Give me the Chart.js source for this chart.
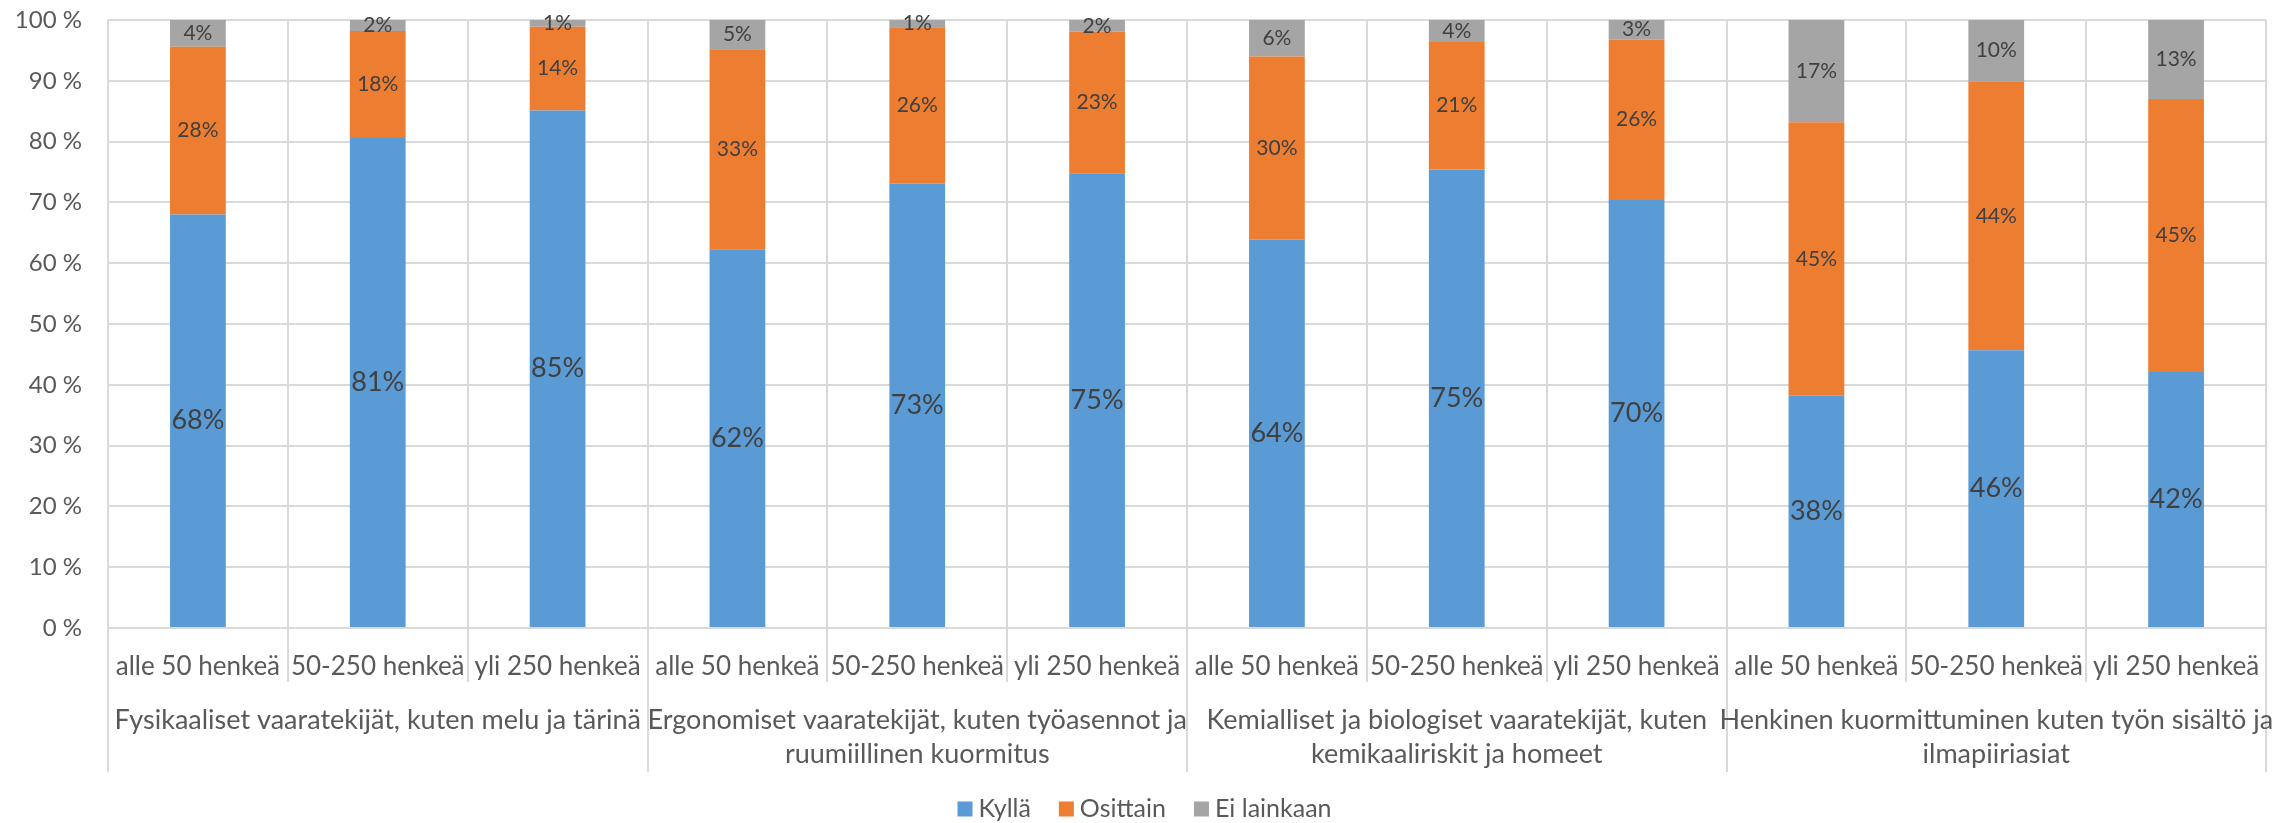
<!DOCTYPE html>
<html>
<head>
<meta charset="utf-8">
<script src="https://cdn.jsdelivr.net/npm/chart.js@4"></script>
<style>
  html, body { margin: 0; padding: 0; background: #ffffff; }
  #wrap { width: 2289px; height: 823px; }
</style>
</head>
<body>
<div id="wrap"><canvas id="c" width="2289" height="823"></canvas></div>
<script>
const categories = [
  'alle 50 henkeä', '50-250 henkeä', 'yli 250 henkeä',
  'alle 50 henkeä', '50-250 henkeä', 'yli 250 henkeä',
  'alle 50 henkeä', '50-250 henkeä', 'yli 250 henkeä',
  'alle 50 henkeä', '50-250 henkeä', 'yli 250 henkeä'
];
const groupLabels = [
  ['Fysikaaliset vaaratekijät, kuten melu ja tärinä'],
  ['Ergonomiset vaaratekijät, kuten työasennot ja', 'ruumiillinen kuormitus'],
  ['Kemialliset ja biologiset vaaratekijät, kuten', 'kemikaaliriskit ja homeet'],
  ['Henkinen kuormittuminen kuten työn sisältö ja', 'ilmapiiriasiat']
];
const groupSize = 3;
const seriesNames = ['Kyllä', 'Osittain', 'Ei lainkaan'];
const kylla      = [68.0, 80.6, 85.1, 62.3, 73.1, 74.8, 63.9, 75.4, 70.4, 38.2, 45.7, 42.1];
const osittain   = [27.6, 17.6, 13.8, 32.9, 25.7, 23.3, 30.1, 21.0, 26.4, 45.0, 44.2, 44.9];
const eiLainkaan = [ 4.4,  1.8,  1.1,  4.8,  1.2,  1.9,  6.0,  3.6,  3.2, 16.8, 10.1, 13.0];
const yTicks = [0, 10, 20, 30, 40, 50, 60, 70, 80, 90, 100];

const FONT = 'Lato';
const GRID = '#D9D9D9';
const TXT = '#595959';
const LBL = '#404040';

const belowAxisPlugin = {
  id: 'belowAxis',
  afterDraw(chart) {
    const ctx = chart.ctx;
    const xs = chart.scales.x;
    const n = categories.length;
    const w = xs.width / n;
    const top = chart.chartArea.bottom;
    ctx.save();
    ctx.strokeStyle = GRID;
    ctx.lineWidth = 2;
    for (let i = 0; i <= n; i++) {
      const x = Math.round(xs.left + i * w);
      const isGroup = i % groupSize === 0;
      ctx.beginPath();
      ctx.moveTo(x, top);
      ctx.lineTo(x, isGroup ? 772 : 682);
      ctx.stroke();
    }
    // group labels
    ctx.fillStyle = TXT;
    ctx.font = '27px ' + FONT;
    ctx.textAlign = 'center';
    ctx.textBaseline = 'middle';
    groupLabels.forEach((lines, g) => {
      const cx = xs.left + (g * groupSize + groupSize / 2) * w;
      lines.forEach((line, j) => {
        ctx.fillText(line, cx, 720 + j * 34);
      });
    });
    // legend
    const items = chart.data.datasets.map(d => ({ text: d.label, color: d.backgroundColor }));
    ctx.font = '25px ' + FONT;
    const box = 15, gapText = 6, gapItem = 28;
    let total = 0;
    items.forEach((it, k) => {
      it.w = ctx.measureText(it.text).width;
      total += box + gapText + it.w + (k < items.length - 1 ? gapItem : 0);
    });
    let x = chart.width / 2 - total / 2;
    const ly = 809;
    ctx.textAlign = 'left';
    items.forEach(it => {
      ctx.fillStyle = it.color;
      ctx.fillRect(x, ly - box / 2, box, box);
      x += box + gapText;
      ctx.fillStyle = TXT;
      ctx.fillText(it.text, x, ly);
      x += it.w + gapItem;
    });
    ctx.restore();
  }
};

const dataLabelPlugin = {
  id: 'segLabels',
  afterDatasetsDraw(chart) {
    const ctx = chart.ctx;
    ctx.save();
    ctx.fillStyle = LBL;
    ctx.textAlign = 'center';
    ctx.textBaseline = 'middle';
    chart.data.datasets.forEach((ds, di) => {
      const meta = chart.getDatasetMeta(di);
      ctx.font = (di === 0 ? 27 : 21) + 'px ' + FONT;
      meta.data.forEach((bar, i) => {
        const v = ds.data[i];
        const cy = (bar.y + bar.base) / 2;
        ctx.fillText(Math.round(v) + '%', bar.x, cy);
      });
    });
    ctx.restore();
  }
};

new Chart(document.getElementById('c'), {
  type: 'bar',
  data: {
    labels: categories,
    datasets: [
      { label: seriesNames[0], data: kylla, backgroundColor: '#5B9BD5' },
      { label: seriesNames[1], data: osittain, backgroundColor: '#ED7D31' },
      { label: seriesNames[2], data: eiLainkaan, backgroundColor: '#A5A5A5' }
    ]
  },
  options: {
    responsive: false,
    animation: false,
    devicePixelRatio: 1,
    layout: { padding: { top: 20, right: 23, left: 0, bottom: 0 } },
    datasets: { bar: { categoryPercentage: 1.0, barPercentage: 0.31, borderWidth: 0 } },
    plugins: { legend: { display: false }, tooltip: { enabled: false } },
    scales: {
      x: {
        stacked: true,
        grid: { offset: true, color: GRID, lineWidth: 2, drawTicks: false },
        border: { color: GRID, width: 2 },
        ticks: { autoSkip: false, maxRotation: 0, minRotation: 0, padding: 23,
                 color: TXT, font: { family: FONT, size: 26 } },
        afterFit(scale) { scale.height = 195; scale.paddingLeft = 0; scale.paddingRight = 0; }
      },
      y: {
        stacked: true,
        min: 0, max: 100,
        afterBuildTicks(scale) { scale.ticks = yTicks.map(v => ({ value: v })); },
        grid: { color: GRID, lineWidth: 2, drawTicks: false },
        border: { display: false },
        ticks: { padding: 26, color: TXT, font: { family: FONT, size: 24 },
                 callback: v => v + ' %' },
        afterFit(scale) { scale.width = 108; scale.paddingTop = 0; scale.paddingBottom = 0; }
      }
    }
  },
  plugins: [dataLabelPlugin, belowAxisPlugin]
});
</script>
</body>
</html>
